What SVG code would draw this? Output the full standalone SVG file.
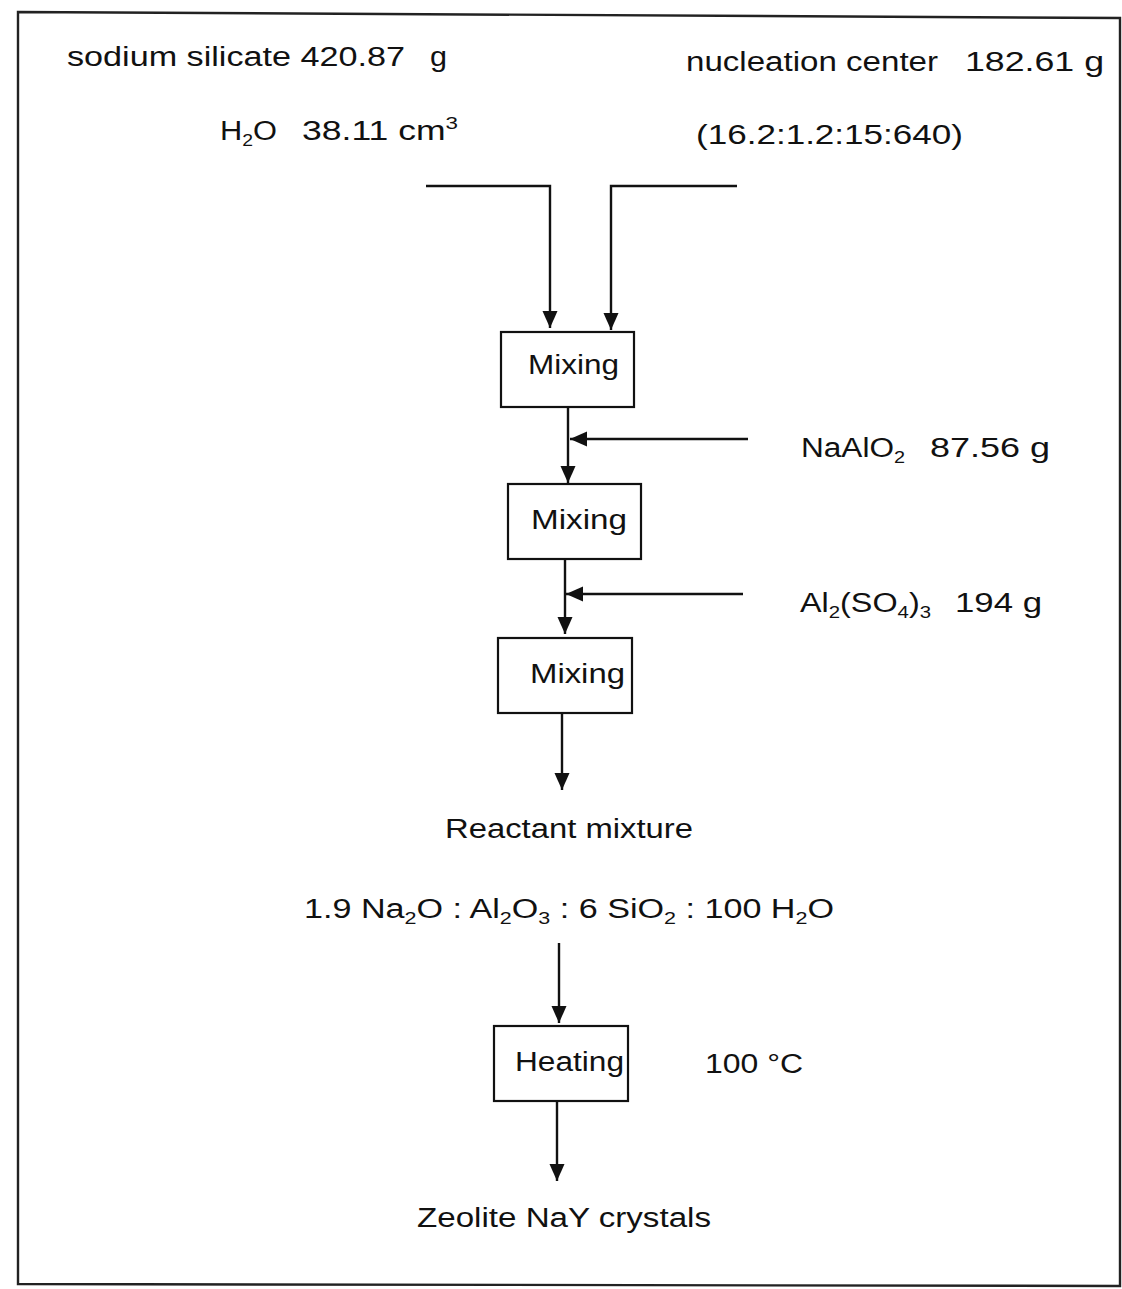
<svg xmlns="http://www.w3.org/2000/svg" width="1122" height="1289" viewBox="0 0 1122 1289">
<style>
text { font-family: "Liberation Sans", Arial, sans-serif; font-size: 27px; fill: #111; }
.sub { font-size: 17px; }
.box { fill: none; stroke: #111; stroke-width: 2.2; }
.conn path { fill: none; stroke: #111; stroke-width: 2.4; }
.frame { fill: none; stroke: #222; stroke-width: 2.4; }
</style>
<defs>
<marker id="ah" markerUnits="userSpaceOnUse" markerWidth="18" markerHeight="18" viewBox="0 0 18 18" refX="17" refY="9" orient="auto">
<path d="M0,1.5 L17,9 L0,16.5 Z" fill="#111"/>
</marker>
</defs>
<rect width="1122" height="1289" fill="#fff"/>
<path class="frame" d="M18,12 L1120,18 L1120,1286 L18,1284 Z"/>

<g id="labels-top">
<text x="67" y="66" textLength="338" lengthAdjust="spacingAndGlyphs">sodium silicate 420.87</text>
<text x="430" y="66" textLength="17" lengthAdjust="spacingAndGlyphs">g</text>
<text x="220" y="140" textLength="57" lengthAdjust="spacingAndGlyphs">H<tspan class="sub" dy="6">2</tspan><tspan dy="-6">O</tspan></text>
<text x="302" y="140" textLength="156" lengthAdjust="spacingAndGlyphs">38.11 cm<tspan class="sub" dy="-11">3</tspan></text>
<text x="686" y="71" textLength="252" lengthAdjust="spacingAndGlyphs">nucleation center</text>
<text x="965" y="71" textLength="139" lengthAdjust="spacingAndGlyphs">182.61 g</text>
<text x="696" y="144" textLength="267" lengthAdjust="spacingAndGlyphs">(16.2:1.2:15:640)</text>
</g>

<g class="conn" id="connectors">
<path d="M426,186 L550,186 L550,328" marker-end="url(#ah)"/>
<path d="M737,186 L611,186 L611,330" marker-end="url(#ah)"/>
<path d="M568,407 L568,483" marker-end="url(#ah)"/>
<path d="M748,439 L570,439" marker-end="url(#ah)"/>
<path d="M565,559 L565,634" marker-end="url(#ah)"/>
<path d="M743,594 L566,594" marker-end="url(#ah)"/>
<path d="M562,713 L562,790" marker-end="url(#ah)"/>
<path d="M559,943 L559,1023" marker-end="url(#ah)"/>
<path d="M557,1101 L557,1181" marker-end="url(#ah)"/>
</g>

<g id="mixing1">
<rect class="box" x="501" y="332" width="133" height="75"/>
<text x="528" y="374" textLength="91" lengthAdjust="spacingAndGlyphs">Mixing</text>
</g>
<g id="naalo2">
<text x="801" y="457" textLength="104" lengthAdjust="spacingAndGlyphs">NaAlO<tspan class="sub" dy="6">2</tspan></text>
<text x="930" y="457" textLength="120" lengthAdjust="spacingAndGlyphs">87.56 g</text>
</g>
<g id="mixing2">
<rect class="box" x="508" y="484" width="133" height="75"/>
<text x="531" y="529" textLength="96" lengthAdjust="spacingAndGlyphs">Mixing</text>
</g>
<g id="al2so43">
<text x="800" y="612" textLength="131" lengthAdjust="spacingAndGlyphs">Al<tspan class="sub" dy="6">2</tspan><tspan dy="-6">(SO</tspan><tspan class="sub" dy="6">4</tspan><tspan dy="-6">)</tspan><tspan class="sub" dy="6">3</tspan></text>
<text x="955" y="612" textLength="87" lengthAdjust="spacingAndGlyphs">194 g</text>
</g>
<g id="mixing3">
<rect class="box" x="498" y="638" width="134" height="75"/>
<text x="530" y="683" textLength="95" lengthAdjust="spacingAndGlyphs">Mixing</text>
</g>
<g id="reactant">
<text x="445" y="838" textLength="248" lengthAdjust="spacingAndGlyphs">Reactant mixture</text>
<text x="304" y="918" textLength="530" lengthAdjust="spacingAndGlyphs">1.9 Na<tspan class="sub" dy="6">2</tspan><tspan dy="-6">O : Al</tspan><tspan class="sub" dy="6">2</tspan><tspan dy="-6">O</tspan><tspan class="sub" dy="6">3</tspan><tspan dy="-6"> : 6 SiO</tspan><tspan class="sub" dy="6">2</tspan><tspan dy="-6"> : 100 H</tspan><tspan class="sub" dy="6">2</tspan><tspan dy="-6">O</tspan></text>
</g>
<g id="heating">
<rect class="box" x="494" y="1026" width="134" height="75"/>
<text x="515" y="1071" textLength="109" lengthAdjust="spacingAndGlyphs">Heating</text>
<text x="705" y="1073" textLength="98" lengthAdjust="spacingAndGlyphs">100 °C</text>
</g>
<g id="product">
<text x="417" y="1227" textLength="294" lengthAdjust="spacingAndGlyphs">Zeolite NaY crystals</text>
</g>
</svg>
